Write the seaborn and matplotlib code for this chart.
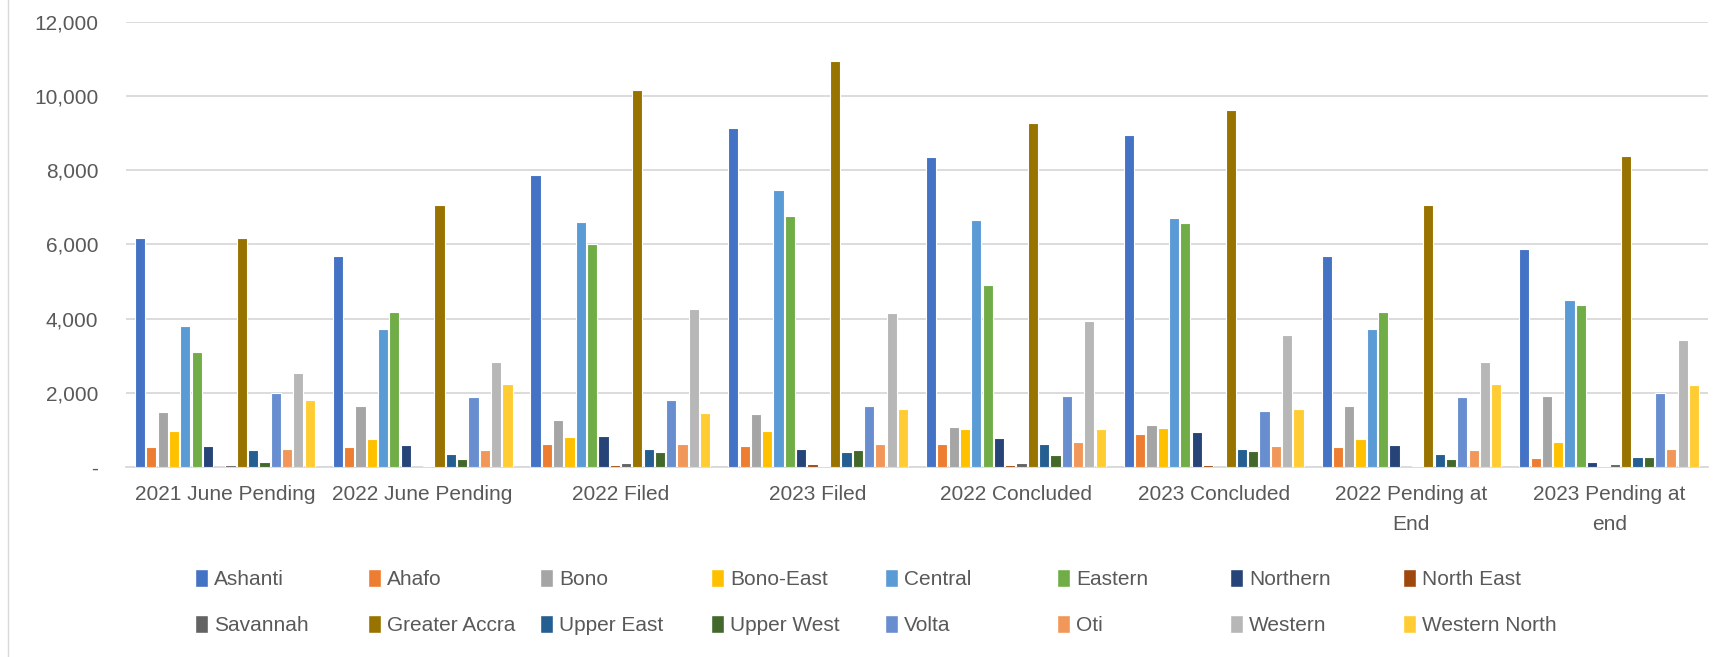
import numpy as np
import pandas as pd
import matplotlib
matplotlib.use("Agg")
import matplotlib.pyplot as plt
import seaborn as sns
from matplotlib.patches import Patch
from matplotlib.lines import Line2D
from matplotlib.ticker import FuncFormatter

# categories on the x axis
periods = ["2021 June Pending", "2022 June Pending", "2022 Filed", "2023 Filed",
           "2022 Concluded", "2023 Concluded", "2022 Pending at\nEnd", "2023 Pending at\nend"]

regions = ["Ashanti", "Ahafo", "Bono", "Bono-East", "Central", "Eastern", "Northern", "North East",
           "Savannah", "Greater Accra", "Upper East", "Upper West", "Volta", "Oti", "Western",
           "Western North"]

colors = ["#4472C4", "#ED7D31", "#A5A5A5", "#FFC000", "#5B9BD5", "#70AD47", "#264478", "#9E480E",
          "#636363", "#997300", "#255E91", "#43682B", "#698ED0", "#F1975A", "#B7B7B7", "#FFCD33"]

# values per region, one per period
ashanti = [6180, 5700, 7870, 9130, 8350, 8950, 5700, 5880]
ahafo = [530, 540, 620, 580, 620, 880, 540, 240]
bono = [1480, 1660, 1260, 1420, 1090, 1130, 1660, 1920]
bono_east = [980, 750, 820, 980, 1030, 1060, 750, 670]
central = [3790, 3730, 6600, 7470, 6650, 6720, 3730, 4490]
eastern = [3090, 4190, 6010, 6760, 4910, 6580, 4190, 4370]
northern = [560, 600, 830, 500, 780, 940, 600, 150]
north_east = [0, 0, 60, 90, 60, 60, 0, 35]
savannah = [45, 35, 115, 35, 115, 0, 35, 80]
greater_accra = [6170, 7050, 10150, 10930, 9270, 9610, 7050, 8390]
upper_east = [470, 350, 500, 410, 620, 490, 350, 260]
upper_west = [145, 215, 400, 470, 320, 430, 215, 260]
volta = [1990, 1880, 1800, 1640, 1910, 1520, 1880, 1990]
oti = [490, 450, 620, 620, 670, 580, 450, 490]
western = [2530, 2840, 4250, 4140, 3940, 3560, 2840, 3420]
western_north = [1810, 2230, 1460, 1560, 1040, 1570, 2230, 2220]

series = [ashanti, ahafo, bono, bono_east, central, eastern, northern, north_east,
          savannah, greater_accra, upper_east, upper_west, volta, oti, western, western_north]

rows = []
for region, vals in zip(regions, series):
    for period, v in zip(periods, vals):
        rows.append({"period": period, "region": region, "cases": v})
df = pd.DataFrame(rows)

sns.set_theme(style="white")
plt.rcParams["font.family"] = ["Liberation Sans", "DejaVu Sans"]
text_color = "#595959"
fs = 15

fig = plt.figure(figsize=(17.33, 6.57), dpi=100)
ax = fig.add_axes([0.0727, 0.289, 0.9129, 0.678])

sns.barplot(data=df, x="period", y="cases", hue="region", order=periods, hue_order=regions,
            palette=colors, saturation=1, width=0.915, gap=0.1, edgecolor="white", linewidth=0.8,
            errorbar=None, legend=False, ax=ax, zorder=3)

ax.set_ylim(0, 12000)
ax.set_yticks(np.arange(0, 12001, 2000))
ax.yaxis.set_major_formatter(FuncFormatter(lambda v, p: "-" if v == 0 else f"{v:,.0f}"))
ax.grid(axis="y", color="#D9D9D9", linewidth=1.3, zorder=0)
ax.set_axisbelow(True)
for s in ["top", "right", "left"]:
    ax.spines[s].set_visible(False)
ax.spines["bottom"].set_color("#D9D9D9")
ax.spines["bottom"].set_linewidth(1.3)
ax.set_xlabel("")
ax.set_ylabel("")
ax.tick_params(axis="both", length=0, labelsize=fs, colors=text_color)
ax.tick_params(axis="x", pad=13)
ax.tick_params(axis="y", pad=20)
for lab in ax.get_xticklabels():
    lab.set_linespacing(1.75)
    lab.set_verticalalignment("top")

# legend: two rows of eight, evenly spaced like the original
leg_x = [191, 364, 536, 707, 881, 1053, 1226, 1399]
leg_y = [579, 625]
W, H = 1733, 657
for i, (region, col) in enumerate(zip(regions, colors)):
    r, c = divmod(i, 8)
    handle = Patch(facecolor=col, edgecolor="white")
    fig.legend(handles=[handle], labels=[region], loc="center left",
               bbox_to_anchor=(leg_x[c] / W - 0.006, 1 - leg_y[r] / H),
               frameon=False, fontsize=fs, labelcolor=text_color,
               handlelength=0.6, handleheight=0.95, handletextpad=0.3, borderpad=0.2)

# chart area border on the left side
fig.add_artist(Line2D([8 / W, 8 / W], [0, 1], color="#D9D9D9", linewidth=1.0))

fig.savefig("out.png", dpi=100, facecolor="white")
